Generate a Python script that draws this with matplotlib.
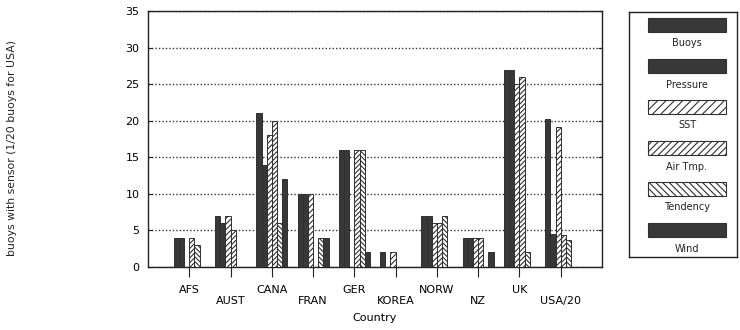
import numpy as np
import matplotlib
matplotlib.use("Agg")
import matplotlib.pyplot as plt
from matplotlib.patches import Rectangle

# buoys reporting each sensor, by country (USA scaled by 1/20)
countries = ['AFS', 'AUST', 'CANA', 'FRAN', 'GER', 'KOREA', 'NORW', 'NZ', 'UK', 'USA/20']
buoys    = [4, 7, 21, 10, 16, 2, 7, 4, 27, 20.3]
pressure = [4, 6, 14, 10, 16, 0, 7, 4, 27, 4.5]
sst      = [0, 7, 18, 10, 0, 2, 6, 4, 25, 19.1]
air_tmp  = [4, 5, 20, 0, 16, 0, 6, 4, 26, 4.4]
tendency = [3, 0, 6, 4, 16, 0, 7, 0, 2, 3.7]
wind     = [0, 0, 12, 4, 2, 0, 0, 2, 0, 0]

series_names = ['Buoys', 'Pressure', 'SST', 'Air Tmp.', 'Tendency', 'Wind']
series_vals = [buoys, pressure, sst, air_tmp, tendency, wind]

dark = '#383838'
# (face colour, bar hatch, legend hatch) for each series
styles = [(dark, None, None), (dark, None, None),
          ('white', '//////', '////'), ('white', '///////', '/////'),
          ('white', '\\\\\\\\\\\\\\', '\\\\\\\\\\'), (dark, None, None)]

plt.rcParams['font.family'] = 'DejaVu Sans'
plt.rcParams['hatch.linewidth'] = 0.8
plt.rcParams['hatch.color'] = '#303030'

fig = plt.figure(figsize=(7.4, 3.3), dpi=100)
ax = fig.add_axes([148/740, 63/330, 454/740, 256/330])

x = np.arange(1, len(countries) + 1)
w = 0.125
for i, vals in enumerate(series_vals):
    fc, hatch, _ = styles[i]
    ax.bar(x + (i - 2.5) * w, vals, width=w, color=fc, edgecolor='#303030',
           hatch=hatch, linewidth=0.7, zorder=3)

ax.set_xlim(0, len(countries) + 1)
ax.set_ylim(0, 35)
ax.set_yticks(np.arange(0, 36, 5))
ax.tick_params(axis='y', direction='in', length=3, labelsize=8, pad=6,
               right=True, color='#222222')
ax.grid(axis='y', linestyle=(0, (1, 1.5)), color='#333333', linewidth=1, zorder=0)

# stagger the country names on two rows
labels = [c if k % 2 == 0 else '\n' + c for k, c in enumerate(countries)]
ax.set_xticks(x)
ax.set_xticklabels(labels, fontsize=8, linespacing=1.1)
ax.tick_params(axis='x', direction='out', length=7, pad=6, color='#222222')
ax.set_xlabel('Country', fontsize=8, labelpad=5)

for s in ax.spines.values():
    s.set_linewidth(1.0)
    s.set_color('#222222')

fig.text(0.016, 0.55, 'buoys with sensor (1/20 buoys for USA)', rotation=90,
         fontsize=7.8, ha='center', va='center', color='#222222')

# legend box with the label under each swatch
lax = fig.add_axes([629/740, 73/330, 108/740, 245/330])
lax.set_xlim(0, 108)
lax.set_ylim(245, 0)
lax.set_xticks([])
lax.set_yticks([])
for s in lax.spines.values():
    s.set_linewidth(1.0)
    s.set_color('#222222')
for i, name in enumerate(series_names):
    fc, _, hatch = styles[i]
    top = 5.5 + 41 * i
    lax.add_patch(Rectangle((19, top), 78, 14.5, facecolor=fc, edgecolor='#303030',
                            hatch=hatch, linewidth=0.8))
    lax.text(58, top + 26, name, fontsize=7, ha='center', va='center', color='#222222')

fig.savefig('out.png', dpi=100)
